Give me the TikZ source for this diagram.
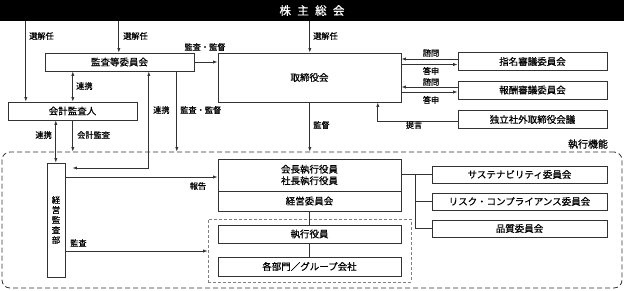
\documentclass[tikz,border=0pt]{standalone}
\usepackage{fontspec}
\setmainfont{Noto Sans CJK JP}[FakeBold=0.6]
\usetikzlibrary{arrows.meta,calc}
\definecolor{ln}{HTML}{333333}
\tikzset{
  box/.style={draw=ln,line width=0.8pt,inner sep=0pt,font=\fontsize{9.5}{11}\selectfont,text=black},
  lbl/.style={inner sep=0pt,font=\fontsize{8.2}{9}\selectfont,text=black},
  arr/.style={draw=ln,line width=0.7pt,-{Latex[length=4.5pt,width=3.2pt]}},
  darr/.style={draw=ln,line width=0.7pt,{Latex[length=4.5pt,width=3.2pt]}-{Latex[length=4.5pt,width=3.2pt]}},
  ln/.style={draw=ln,line width=0.7pt}
}
\begin{document}
\begin{tikzpicture}[x=1pt,y=-1pt]
\useasboundingbox (0,0) rectangle (624,290);
% top bar
\node[fill=black,minimum width=624pt,minimum height=21pt,inner sep=0pt,text=white,font=\fontsize{11.5}{12}\selectfont] (bar) at (312,10.5) {株\hspace{0.55em}主\hspace{0.55em}総\hspace{0.55em}会};
% boxes
\node[box,minimum width=149pt,minimum height=18pt] (kansa) at (119.5,62) {監査等委員会};
\node[box,minimum width=129pt,minimum height=18pt] (kaikei) at (72.5,111) {会計監査人};
\node[box,minimum width=183pt,minimum height=49pt] (tori) at (309.5,77.5) {取締役会};
\node[box,minimum width=149pt,minimum height=18.5pt] (shimei) at (532.5,61.5) {指名審議委員会};
\node[box,minimum width=149pt,minimum height=18pt] (hoshu) at (532.5,90) {報酬審議委員会};
\node[box,minimum width=149pt,minimum height=17.5pt] (dokuritsu) at (532.5,119.5) {独立社外取締役会議};
% execution area
\node[draw=ln,line width=0.8pt,dash pattern=on 5pt off 3pt,rounded corners=8pt,minimum width=620pt,minimum height=136pt,inner sep=0pt] (exec) at (312,220) {};
\node[lbl,anchor=south,font=\fontsize{10}{11}\selectfont] (execlbl) at (588,149) {執行機能};
\node[draw=gray,line width=0.7pt,dash pattern=on 3pt off 2pt,minimum width=203pt,minimum height=63pt,inner sep=0pt] (inner) at (309.5,250.5) {};
\node[box,minimum width=18pt,minimum height=114pt,align=center,font=\fontsize{8.5}{10}\selectfont] (kansabu) at (56,220) {経\\営\\監\\査\\部};
\node[box,minimum width=183pt,minimum height=32pt,align=center,font=\fontsize{9.5}{11.5}\selectfont] (kaicho) at (309.5,175) {会長執行役員\\社長執行役員};
\node[box,minimum width=183pt,minimum height=20pt] (keieiiin) at (309.5,201) {経営委員会};
\node[box,minimum width=183pt,minimum height=18pt] (shikko) at (309.5,234) {執行役員};
\node[box,minimum width=183pt,minimum height=19pt] (kakubu) at (309.5,266.5) {各部門／グループ会社};
\node[box,minimum width=175pt,minimum height=17pt] (sust) at (519.5,174.5) {サステナビリティ委員会};
\node[box,minimum width=175pt,minimum height=17pt] (risk) at (519.5,201.5) {リスク・コンプライアンス委員会};
\node[box,minimum width=175pt,minimum height=17pt] (hin) at (519.5,228.5) {品質委員会};
% coordinates
\coordinate (c1) at ([xshift=26]bar.south west);
\coordinate (c2) at ([xshift=119]bar.south west);
\coordinate (c3) at ([xshift=310]bar.south west);
\coordinate (x73) at ([xshift=73]bar.south west);
\coordinate (x149) at ([xshift=149]bar.south west);
\coordinate (x177) at ([xshift=177]bar.south west);
\coordinate (x56) at ([xshift=56]bar.south west);
\coordinate (x378) at ([xshift=378]bar.south west);
\coordinate (x416) at ([xshift=416]bar.south west);
% 選解任
\draw[arr] (c1) -- (c1 |- kaikei.north);
\draw[arr] (c2) -- (c2 |- kansa.north);
\draw[arr] (c3) -- (c3 |- tori.north);
\node[lbl,anchor=west] (l1) at (29,36) {選解任};
\node[lbl,anchor=west] (l2) at (123,36) {選解任};
\node[lbl,anchor=west] (l3) at (313,36) {選解任};
% 監査等 -> 取締役会
\draw[arr] (kansa.east) -- (tori.west |- kansa.east);
\node[lbl] (l4) at (205,47) {監査・監督};
% 連携 kansa-kaikei
\draw[darr] (x73 |- kansa.south) -- (x73 |- kaikei.north);
\node[lbl,anchor=west] (l5) at (76,86) {連携};
% 連携 kansa - kansabu
\draw[darr] (x149 |- kansa.south) -- (x149 |- 0,168) -- ([xshift=7]kansabu.east |- 0,168);
\node[lbl,anchor=west] (l6) at (153,110) {連携};
% 監査・監督 down
\draw[arr] (x177 |- kansa.south) -- (x177 |- exec.north);
\node[lbl,anchor=west] (l7) at (180,110) {監査・監督};
% 連携 kaikei - kansabu
\draw[darr] (x56 |- kaikei.south) -- (x56 |- kansabu.north);
\node[lbl,anchor=east] (l8) at (52,135) {連携};
% 会計監査
\draw[arr] (x73 |- kaikei.south) -- (x73 |- exec.north);
\node[lbl,anchor=west] (l9) at (77,135) {会計監査};
% 監督
\draw[arr] (c3 |- tori.south) -- (c3 |- exec.north);
\node[lbl,anchor=west] (l10) at (313,125) {監督};
% 諮問 / 答申
\draw[arr] ([yshift=-3]tori.east |- shimei.west) -- ([yshift=-3]shimei.west);
\draw[arr] ([yshift=2.5]shimei.west) -- ([yshift=2.5]tori.east |- shimei.west);
\node[lbl] (l11) at (431,53) {諮問};
\node[lbl] (l12) at (431,71) {答申};
\draw[arr] ([yshift=-2]tori.east |- hoshu.west) -- ([yshift=-2]hoshu.west);
\draw[arr] ([yshift=3]hoshu.west) -- ([yshift=3]tori.east |- hoshu.west);
\node[lbl] (l13) at (431,82) {諮問};
\node[lbl] (l14) at (431,100) {答申};
% 提言
\draw[arr] ([yshift=-1.5]dokuritsu.west) -- ([yshift=-1.5]x378 |- dokuritsu.west) -- (x378 |- tori.south);
\node[lbl] (l15) at (414,125) {提言};
% 報告, 監査
\draw[arr] (kansabu.east |- 0,177) -- (kaicho.west |- 0,177);
\node[lbl] (l16) at (198,186) {報告};
\draw[arr] (kansabu.east |- 0,251) -- (inner.west |- 0,251);
\node[lbl,anchor=west] (l17) at (70,243) {監査};
% vertical chain
\draw[ln] (c3 |- keieiiin.south) -- (c3 |- shikko.north);
\draw[ln] (c3 |- shikko.south) -- (c3 |- kakubu.north);
% committees
\draw[ln] (kaicho.east |- sust.west) -- (sust.west);
\draw[ln] (x416 |- sust.west) -- (x416 |- hin.west) -- (hin.west);
\draw[ln] (x416 |- risk.west) -- (risk.west);
\end{tikzpicture}
\end{document}
